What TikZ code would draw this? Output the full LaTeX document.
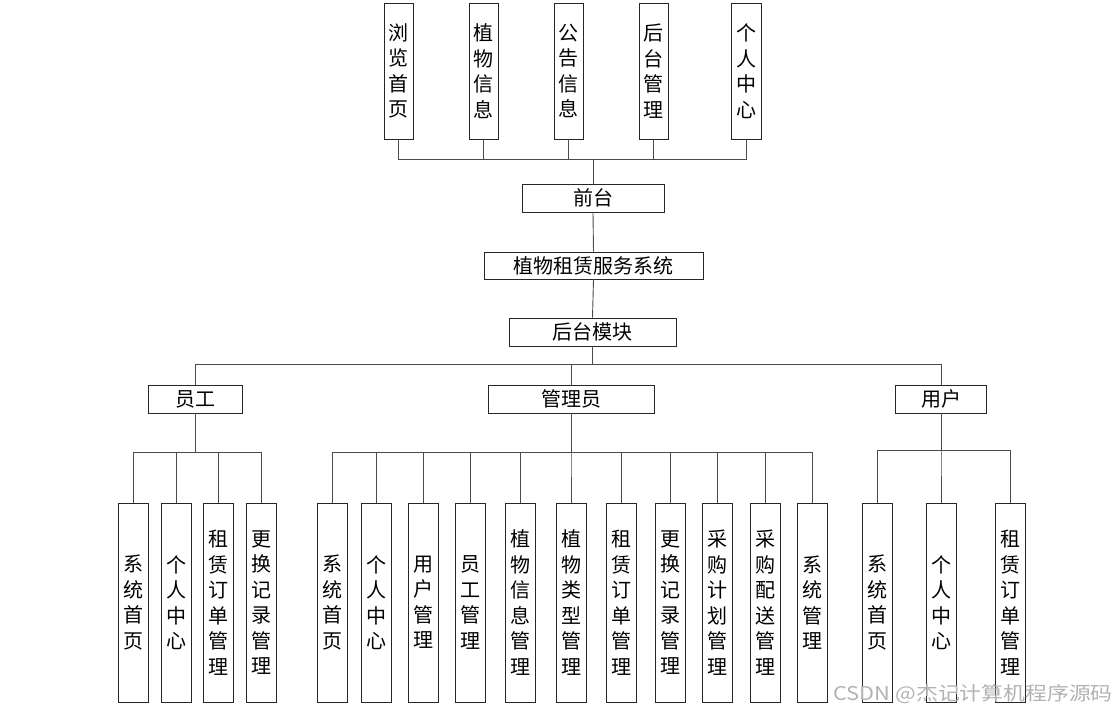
\documentclass[tikz,border=0pt]{standalone}
\usepackage{fontspec}
\setmainfont{Noto Sans CJK SC}
\newfontfamily\cjk{Noto Sans CJK SC}
\begin{document}
\begin{tikzpicture}[x=1pt,y=-1pt,
  box/.style={draw=black!85, line width=0.9pt, inner sep=0pt, fill=white,
              font=\cjk\fontsize{20}{25.5}\selectfont, align=center, text=black},
  vbox/.style={box, minimum width=30pt, minimum height=199pt},
  tbox/.style={box, minimum width=29pt, minimum height=136pt},
  hbox/.style={box, minimum height=28pt},
  link/.style={draw=black!70, line width=0.9pt}]
\useasboundingbox (0,0) rectangle (1117,715);

% top level
\node[tbox] (t1) at (398.5,71) {浏\\览\\首\\页};
\node[tbox] (t2) at (483.5,71) {植\\物\\信\\息};
\node[tbox] (t3) at (568.5,71) {公\\告\\信\\息};
\node[tbox] (t4) at (653.5,71) {后\\台\\管\\理};
\node[tbox, minimum width=30pt] (t5) at (746,71) {个\\人\\中\\心};
\node[hbox, minimum width=142pt] (fore) at (593,198) {前台};
\node[hbox, minimum width=219pt, minimum height=27pt] (sys) at (593.5,265.5) {植物租赁服务系统};
\node[hbox, minimum width=167pt] (back) at (592.5,332) {后台模块};

\coordinate (tb) at (0,159);
\foreach \c in {t1,t2,t3,t4,t5}{
  \draw[link] (fore.north) -- (fore.north |- tb) -| (\c.south);
}
\draw[link] (fore.south) -- (sys.north);
\draw[link] (sys.south) -- (back.north);

% roles
\node[hbox, minimum width=94pt] (staff) at (195,399) {员工};
\node[hbox, minimum width=166pt] (admin) at (571,399) {管理员};
\node[hbox, minimum width=91pt] (user) at (941,399) {用户};
\coordinate (rb) at (0,364);
\foreach \c in {staff,admin,user}{
  \draw[link] (back.south) -- (back.south |- rb) -| (\c.north);
}

% staff children
\node[vbox] (s1) at (133.5,602.5) {系\\统\\首\\页};
\node[vbox] (s2) at (176,602.5) {个\\人\\中\\心};
\node[vbox] (s3) at (218,602.5) {租\\赁\\订\\单\\管\\理};
\node[vbox] (s4) at (261,602.5) {更\\换\\记\\录\\管\\理};
\coordinate (sb) at (0,452);
\foreach \c in {s1,s2,s3,s4}{
  \draw[link] (staff.south) -- (staff.south |- sb) -| (\c.north);
}

% admin children
\node[vbox] (a1) at (332.5,602.5) {系\\统\\首\\页};
\node[vbox] (a2) at (376.5,602.5) {个\\人\\中\\心};
\node[vbox] (a3) at (423,602.5) {用\\户\\管\\理};
\node[vbox] (a4) at (470,602.5) {员\\工\\管\\理};
\node[vbox] (a5) at (520.5,602.5) {植\\物\\信\\息\\管\\理};
\node[vbox] (a6) at (571,602.5) {植\\物\\类\\型\\管\\理};
\node[vbox] (a7) at (621.5,602.5) {租\\赁\\订\\单\\管\\理};
\node[vbox] (a8) at (670,602.5) {更\\换\\记\\录\\管\\理};
\node[vbox] (a9) at (717.5,602.5) {采\\购\\计\\划\\管\\理};
\node[vbox] (a10) at (765,602.5) {采\\购\\配\\送\\管\\理};
\node[vbox] (a11) at (812.5,602.5) {系\\统\\管\\理};
\coordinate (ab) at (0,452);
\foreach \c in {a1,a2,a3,a4,a5,a6,a7,a8,a9,a10,a11}{
  \draw[link] (admin.south) -- (admin.south |- ab) -| (\c.north);
}

% user children
\node[vbox] (u1) at (877,602.5) {系\\统\\首\\页};
\node[vbox] (u2) at (941,602.5) {个\\人\\中\\心};
\node[vbox] (u3) at (1010,602.5) {租\\赁\\订\\单\\管\\理};
\coordinate (ub) at (0,450);
\foreach \c in {u1,u2,u3}{
  \draw[link] (user.south) -- (user.south |- ub) -| (\c.north);
}

% watermark
\node[anchor=east, inner sep=0pt, text=black!30, font=\cjk\fontsize{19}{19}\selectfont] (wm) at (1113,694)
  {\scalebox{1.15}[1]{CSDN @杰记计算机程序源码}};
\end{tikzpicture}
\end{document}
